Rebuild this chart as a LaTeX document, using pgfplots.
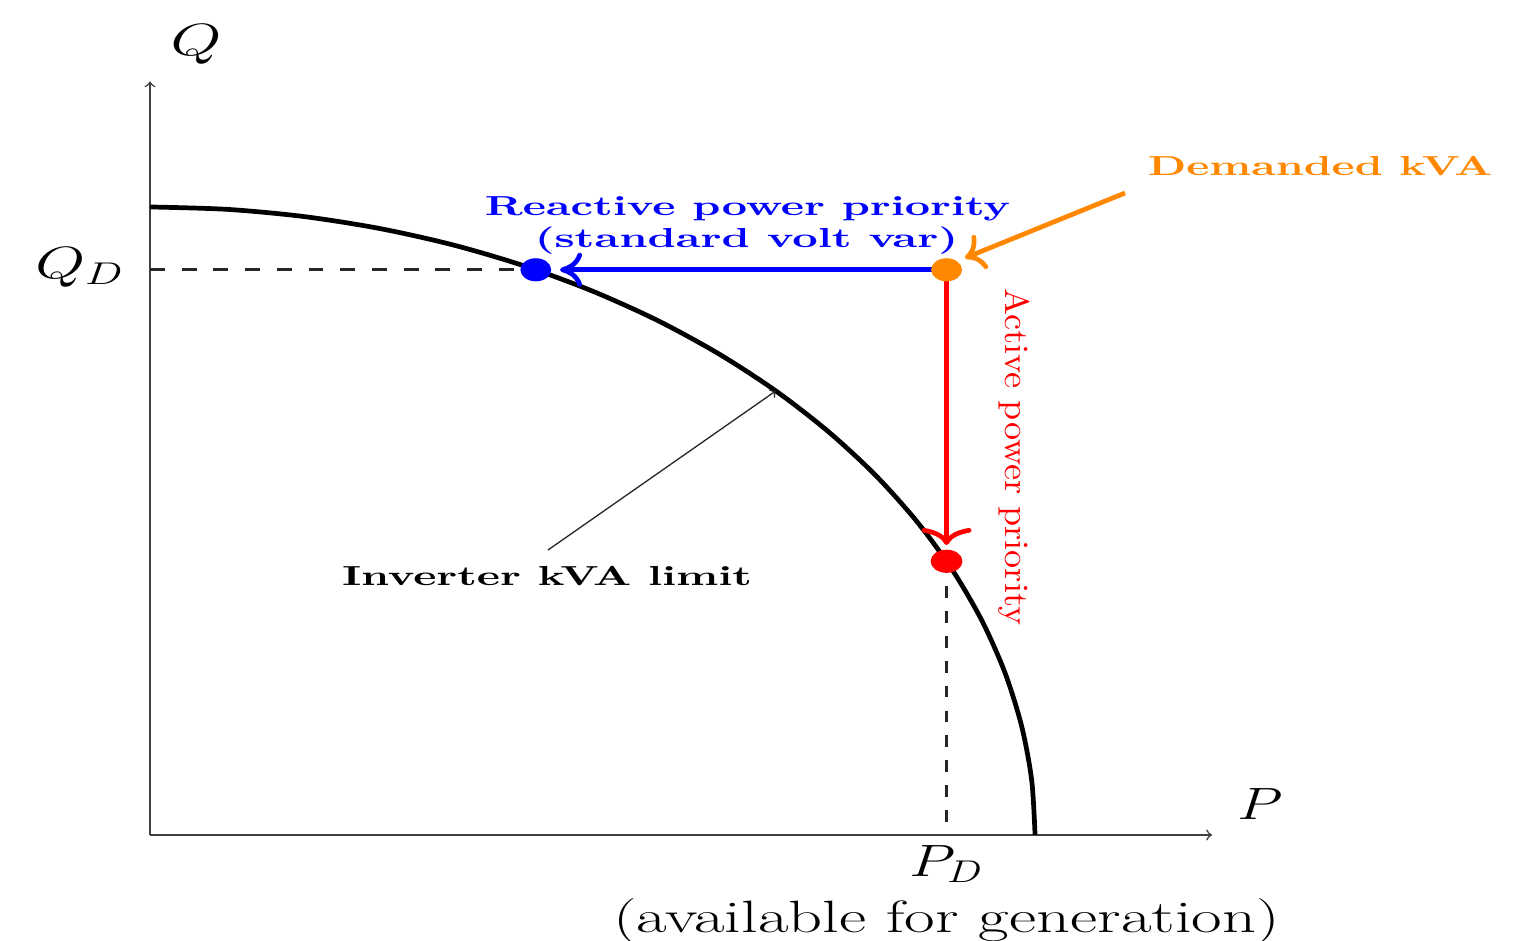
\documentclass[border=0pt]{standalone}
\usepackage{graphicx}
\usepackage{pgfplots}
\pgfplotsset{compat=1.18}
\usetikzlibrary{arrows.meta}
\definecolor{dorange}{RGB}{255,136,0}
\pgfplotstableread{
x y
1.0000 0.0000
0.9962 0.0872
0.9848 0.1736
0.9659 0.2588
0.9397 0.3420
0.9063 0.4226
0.8660 0.5000
0.8192 0.5736
0.7660 0.6428
0.7071 0.7071
0.6428 0.7660
0.5736 0.8192
0.5000 0.8660
0.4226 0.9063
0.3420 0.9397
0.2588 0.9659
0.1736 0.9848
0.0872 0.9962
0.0000 1.0000
}\limitcurve
\begin{document}
\begin{tikzpicture}
\useasboundingbox (-57.25pt,-40.08pt) rectangle (523.28pt,318.70pt);
\begin{axis}[
  anchor=origin, at={(0pt,0pt)},
  x=337.8pt, y=239.7pt,
  xmin=0, xmax=1.2, ymin=0, ymax=1.2,
  enlargelimits=false,
  axis lines=left,
  axis line style={-to, line width=0.6pt, black!75},
  xtick=\empty, ytick=\empty,
  clip=false,
]
% dashed guide lines
\addplot[black!85, line width=1pt, dash pattern=on 5.7pt off 6.4pt] coordinates {(0,0.9) (0.4359,0.9)};
\addplot[black!85, line width=1pt, dash pattern=on 4.5pt off 5pt] coordinates {(0.9,0.4359) (0.9,0)};
% inverter limit
\addplot[black, line width=1.8pt, smooth] table {\limitcurve};
% priority arrows
\addplot[blue, line width=1.8pt, -{Computer Modern Rightarrow[length=8.4pt, width=13pt]}] coordinates {(0.9,0.9) (0.4633,0.9)};
\addplot[red, line width=1.8pt, -{Computer Modern Rightarrow[length=6.5pt, width=19pt]}] coordinates {(0.9,0.9) (0.9,0.4618)};
\addplot[dorange, line width=1.8pt, -{Computer Modern Rightarrow[length=7pt, width=14pt]}] coordinates {(1.1017,1.0223) (0.9209,0.9188)};
\addplot[black!85, line width=0.5pt, -to] coordinates {(0.4497,0.4538) (0.7071,0.7071)};
% points
\addplot[only marks, mark=*, mark size=4.2pt, blue, mark options={xscale=1.35, fill=blue, draw=blue}] coordinates {(0.4359,0.9)};
\addplot[only marks, mark=*, mark size=4.2pt, red, mark options={xscale=1.4, fill=red, draw=red}] coordinates {(0.9,0.4359)};
\addplot[only marks, mark=*, mark size=4.2pt, dorange, mark options={xscale=1.35, fill=dorange, draw=dorange}] coordinates {(0.9,0.9)};
% labels
\node[anchor=base, inner sep=0, text=blue] at (axis cs:0.6751,0.9861) {\scalebox{1.68}[1.05]{\bfseries Reactive power priority}};
\node[anchor=base, inner sep=0, text=blue] at (axis cs:0.674,0.9355) {\scalebox{1.69}[1.05]{\bfseries (standard volt var)}};
\node[anchor=base, inner sep=0, text=dorange] at (axis cs:1.3220,1.0498) {\scalebox{1.67}[1.05]{\bfseries Demanded kVA}};
\node[anchor=base, inner sep=0, text=black] at (axis cs:0.4486,0.397) {\scalebox{1.68}[1.05]{\bfseries Inverter kVA limit}};
\node[anchor=base west, inner sep=0, rotate=-90, text=red] at (axis cs:0.9661,0.8710) {\scalebox{1.38}[1.3]{Active power priority}};
\node[anchor=base east, inner sep=0] at (axis cs:-0.0282,0.8869) {\scalebox{1.42}[1]{\LARGE $Q_D$}};
\node[anchor=base, inner sep=0] at (axis cs:0.052,1.2404) {\scalebox{1.45}[1]{\LARGE $Q$}};
\node[anchor=base, inner sep=0] at (axis cs:1.2542,0.0239) {\scalebox{1.3}[1]{\LARGE $P$}};
\node[anchor=base, inner sep=0] at (axis cs:0.9,-0.0653) {\scalebox{1.32}[1]{\LARGE $P_D$}};
\node[anchor=base, inner sep=0] at (axis cs:0.9,-0.1545) {\scalebox{1.47}[1]{\LARGE (available for generation)}};
\end{axis}
\end{tikzpicture}
\end{document}
